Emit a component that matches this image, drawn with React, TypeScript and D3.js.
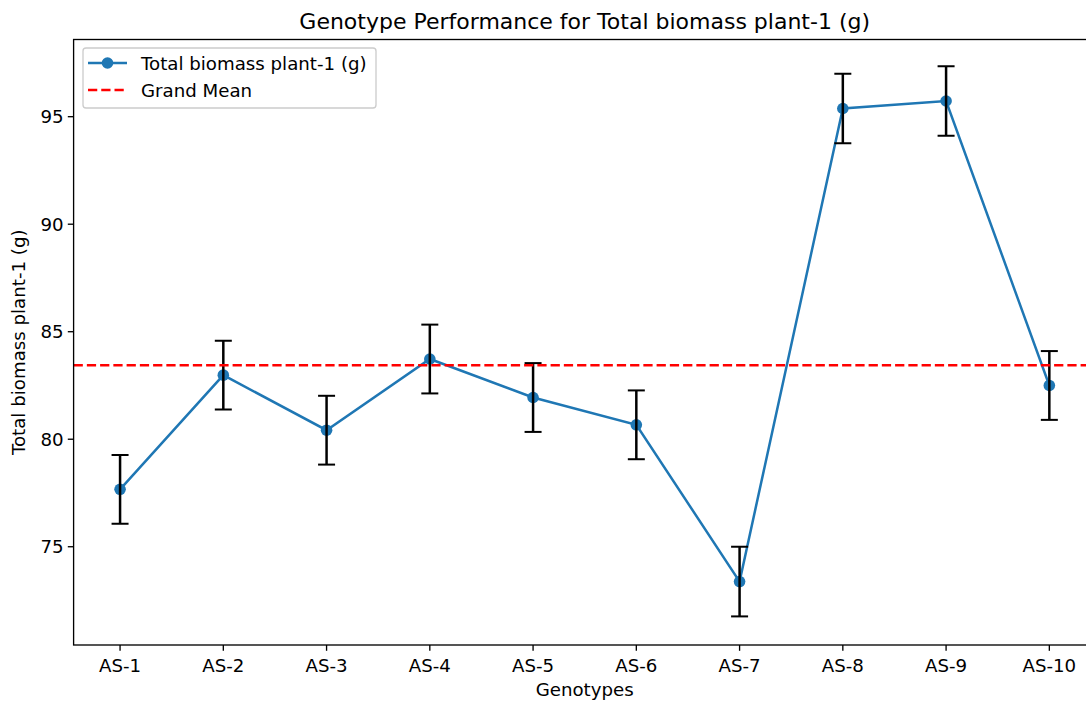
import React from "react";
import * as d3 from "d3";

const genotypes = ["AS-1", "AS-2", "AS-3", "AS-4", "AS-5", "AS-6", "AS-7", "AS-8", "AS-9", "AS-10"];
const biomass = [77.67, 82.98, 80.42, 83.73, 81.94, 80.67, 73.38, 95.38, 95.73, 82.5];
const errors = [1.6, 1.6, 1.6, 1.6, 1.6, 1.6, 1.62, 1.62, 1.62, 1.6];
const grandMean = 83.44;
const yTicks = [75, 80, 85, 90, 95];

const W = 1086;
const H = 702;
const left = 73.6;
const right = 1095.8;
const top = 39.5;
const bottom = 645;
const FONT = "'DejaVu Sans', sans-serif";
const FS = 18.2;

export default function App() {
  const x = d3.scaleLinear().domain([-0.45, genotypes.length - 1 + 0.45]).range([left, right]);
  const y = d3.scaleLinear().domain([70.43, 98.59]).range([bottom, top]);
  const line = d3
    .line<number>()
    .x((_, i) => x(i))
    .y((d) => y(d));
  const cap = 8.5;
  const cx = (left + right) / 2;
  return (
    <div style={{ position: "absolute", left: 0, top: 0, width: W, height: H, overflow: "hidden", background: "#fff" }}>
      <svg width={W} height={H} style={{ display: "block" }} fontFamily={FONT}>
        <rect x={0} y={0} width={W} height={H} fill="#fff" />
        <defs>
          <clipPath id="plot">
            <rect x={left} y={top} width={right - left} height={bottom - top} />
          </clipPath>
        </defs>
        <g clipPath="url(#plot)">
          <path d={line(biomass) || ""} fill="none" stroke="#1f77b4" strokeWidth={2.5} />
          {biomass.map((v, i) => (
            <circle key={"m" + i} cx={x(i)} cy={y(v)} r={5.8} fill="#1f77b4" />
          ))}
          {biomass.map((v, i) => (
            <g key={"e" + i} stroke="#000" strokeWidth={2.5}>
              <line x1={x(i)} x2={x(i)} y1={y(v - errors[i])} y2={y(v + errors[i])} />
              <line x1={x(i) - cap} x2={x(i) + cap} y1={y(v - errors[i])} y2={y(v - errors[i])} strokeWidth={2} />
              <line x1={x(i) - cap} x2={x(i) + cap} y1={y(v + errors[i])} y2={y(v + errors[i])} strokeWidth={2} />
            </g>
          ))}
          <line x1={left} x2={right} y1={y(grandMean)} y2={y(grandMean)} stroke="#ff0000" strokeWidth={2.5} strokeDasharray="9.25,4" />
        </g>
        {/* spines */}
        <rect x={left} y={top} width={right - left} height={bottom - top} fill="none" stroke="#000" strokeWidth={1.33} />
        {/* x ticks */}
        {genotypes.map((g, i) => (
          <g key={"xt" + i}>
            <line x1={x(i)} x2={x(i)} y1={bottom} y2={bottom + 5.8} stroke="#000" strokeWidth={1.33} />
            <text x={x(i)} y={672} textAnchor="middle" fontSize={FS} fill="#000">
              {g}
            </text>
          </g>
        ))}
        {yTicks.map((t) => (
          <g key={"yt" + t}>
            <line x1={left} x2={left - 5.8} y1={y(t)} y2={y(t)} stroke="#000" strokeWidth={1.33} />
            <text x={left - 10} y={y(t)} dy="0.36em" textAnchor="end" fontSize={FS} fill="#000">
              {t}
            </text>
          </g>
        ))}
        <text x={cx} y={28.5} textAnchor="middle" fontSize={22} fill="#000">
          Genotype Performance for Total biomass plant-1 (g)
        </text>
        <text x={cx} y={696} textAnchor="middle" fontSize={FS} fill="#000">
          Genotypes
        </text>
        <text
          transform={`translate(25, ${(top + bottom) / 2}) rotate(-90)`}
          textAnchor="middle"
          fontSize={FS}
          fill="#000"
        >
          Total biomass plant-1 (g)
        </text>
        {/* legend */}
        <g>
          <rect x={83} y={48} width={293} height={60} rx={3} fill="#fff" fillOpacity={0.8} stroke="#cccccc" strokeWidth={1.33} />
          <line x1={88} x2={127} y1={63} y2={63} stroke="#1f77b4" strokeWidth={2.5} />
          <circle cx={107.5} cy={63} r={5.8} fill="#1f77b4" />
          <text x={141} y={63} dy="0.36em" fontSize={FS} fill="#000">
            Total biomass plant-1 (g)
          </text>
          <line x1={88} x2={127} y1={90} y2={90} stroke="#ff0000" strokeWidth={2.5} strokeDasharray="9.25,4" />
          <text x={141} y={90} dy="0.36em" fontSize={FS} fill="#000">
            Grand Mean
          </text>
        </g>
      </svg>
    </div>
  );
}
